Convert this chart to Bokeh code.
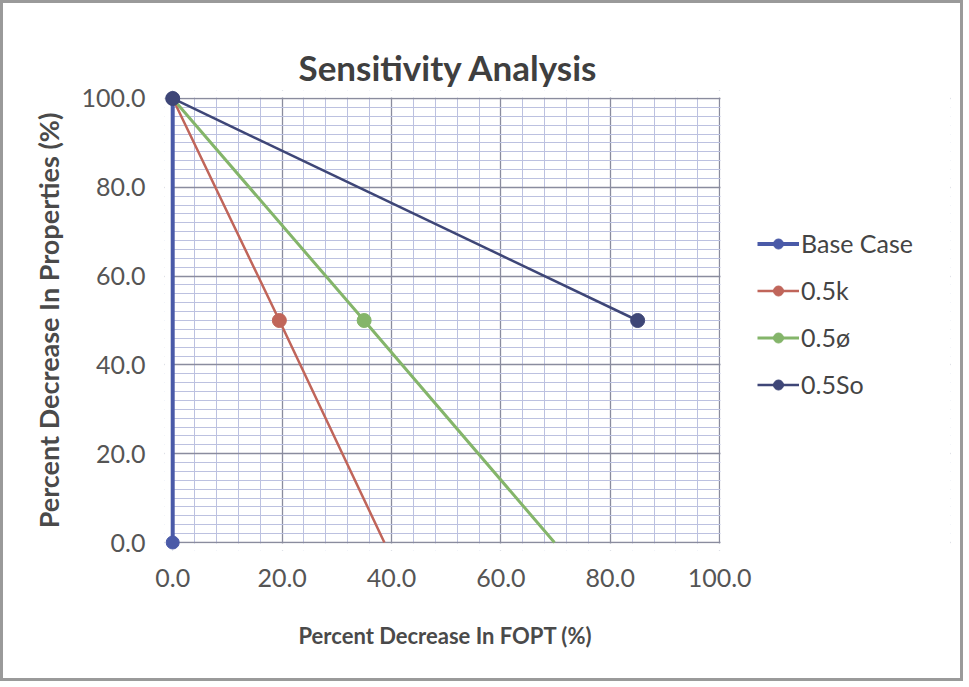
from bokeh.plotting import figure
from bokeh.models import (Legend, LegendItem, FixedTicker, NumeralTickFormatter,
                          Range1d, BoxAnnotation, Title)
from bokeh.embed import file_html
from bokeh.resources import INLINE

# ---- data ----
base_x = [0.0, 0.0]
base_y = [0.0, 100.0]

k_x = [0.0, 19.5, 38.7]
k_y = [100.0, 50.0, 0.0]

phi_x = [0.0, 35.0, 69.8]
phi_y = [100.0, 50.0, 0.0]

so_x = [0.0, 85.0]
so_y = [100.0, 50.0]

series_names = ["Base Case", "0.5k", "0.5\u00f8", "0.5So"]

x_major = [0, 20, 40, 60, 80, 100]
x_minor = list(range(0, 101, 4))
y_major = [0, 20, 40, 60, 80, 100]
y_minor = list(range(0, 101, 2))

FONT = "Lato"
C_BASE = "#4a5aa8"
C_K = "#c0655a"
C_PHI = "#84b56a"
C_SO = "#3e4677"

# frame spans the plot area plus the legend area to its right (masked white)
XPAD, YPAD, XMAX = 1.5, 1.8, 142.2
p = figure(width=963, height=681, output_backend="svg", toolbar_location=None,
           x_range=Range1d(-XPAD, XMAX), y_range=Range1d(-YPAD, 100 + YPAD),
           min_border_left=161, min_border_right=16, min_border_top=87, min_border_bottom=134,
           background_fill_color="white", border_fill_color="white")
p.styles = {"border": "3px solid #9a9a9a", "margin": "0px"}
p.outline_line_color = None

# title
p.title.text = "Sensitivity Analysis"
p.title.align = "left"
p.title.offset = 134
p.title.text_font = FONT
p.title.text_font_size = "35px"
p.title.text_font_style = "bold"
p.title.text_color = "#3f3f3f"
p.title.standoff = 6

# axes
for ax, maj, mnr in ((p.xaxis[0], x_major, x_minor), (p.yaxis[0], y_major, y_minor)):
    ax.ticker = FixedTicker(ticks=maj, minor_ticks=mnr)
    ax.formatter = NumeralTickFormatter(format="0.0")
    ax.major_tick_line_color = None
    ax.minor_tick_line_color = None
    ax.axis_line_color = None
    ax.major_label_text_font = FONT
    ax.major_label_text_font_size = "25px"
    ax.major_label_text_color = "#555555"
    ax.axis_label_text_font = FONT
    ax.axis_label_text_font_style = "bold"
    ax.axis_label_text_color = "#4a4a4a"

p.yaxis.axis_label = "Percent Decrease In Properties (%)"
p.yaxis.axis_label_text_font_size = "27px"
p.xaxis.major_label_standoff = 12
p.yaxis.major_label_standoff = 13
p.yaxis.axis_label_standoff = 14

xlab = Title(text="Percent Decrease In FOPT (%)", align="left", offset=134,
             text_font=FONT, text_font_size="22px", text_font_style="bold",
             text_color="#4a4a4a", standoff=60)
p.add_layout(xlab, "below")

for g in (p.xgrid[0], p.ygrid[0]):
    g.grid_line_color = "#8a8c9e"
    g.grid_line_width = 1.3
    g.minor_grid_line_color = "#bcc1e0"
    g.minor_grid_line_width = 1

# white masks over the padding strips and legend area (above the grid, below the data)
for kw in (dict(right=-0.15), dict(top=-0.2), dict(bottom=100.2), dict(left=100.15)):
    p.add_layout(BoxAnnotation(fill_color="white", fill_alpha=1, line_color=None,
                               level="underlay", **kw))

# series
r_base_l = p.line(base_x, base_y, line_color=C_BASE, line_width=4)
r_base_m = p.scatter(base_x, base_y, size=13, fill_color=C_BASE, line_color=C_BASE)

r_k_l = p.line(k_x, k_y, line_color=C_K, line_width=2.5)
r_k_m = p.scatter(k_x[1:2], k_y[1:2], size=14, fill_color=C_K, line_color=C_K)

r_phi_l = p.line(phi_x, phi_y, line_color=C_PHI, line_width=3)
r_phi_m = p.scatter(phi_x[1:2], phi_y[1:2], size=14, fill_color=C_PHI, line_color=C_PHI)

r_so_l = p.line(so_x, so_y, line_color=C_SO, line_width=2.5)
r_so_m = p.scatter(so_x, so_y, size=14, fill_color=C_SO, line_color=C_SO)

legend = Legend(items=[
    LegendItem(label=series_names[0], renderers=[r_base_l, r_base_m]),
    LegendItem(label=series_names[1], renderers=[r_k_l, r_k_m]),
    LegendItem(label=series_names[2], renderers=[r_phi_l, r_phi_m]),
    LegendItem(label=series_names[3], renderers=[r_so_l, r_so_m]),
], location=(593, 151))
legend.border_line_color = None
legend.background_fill_alpha = 0
legend.padding = 0
legend.margin = 0
legend.spacing = 17
legend.glyph_width = 42
legend.glyph_height = 25
legend.label_height = 25
legend.label_standoff = 2
legend.label_text_font = FONT
legend.label_text_font_size = "25px"
legend.label_text_color = "#444444"
p.add_layout(legend, "center")

open("out.html", "w").write(file_html(p, INLINE))
